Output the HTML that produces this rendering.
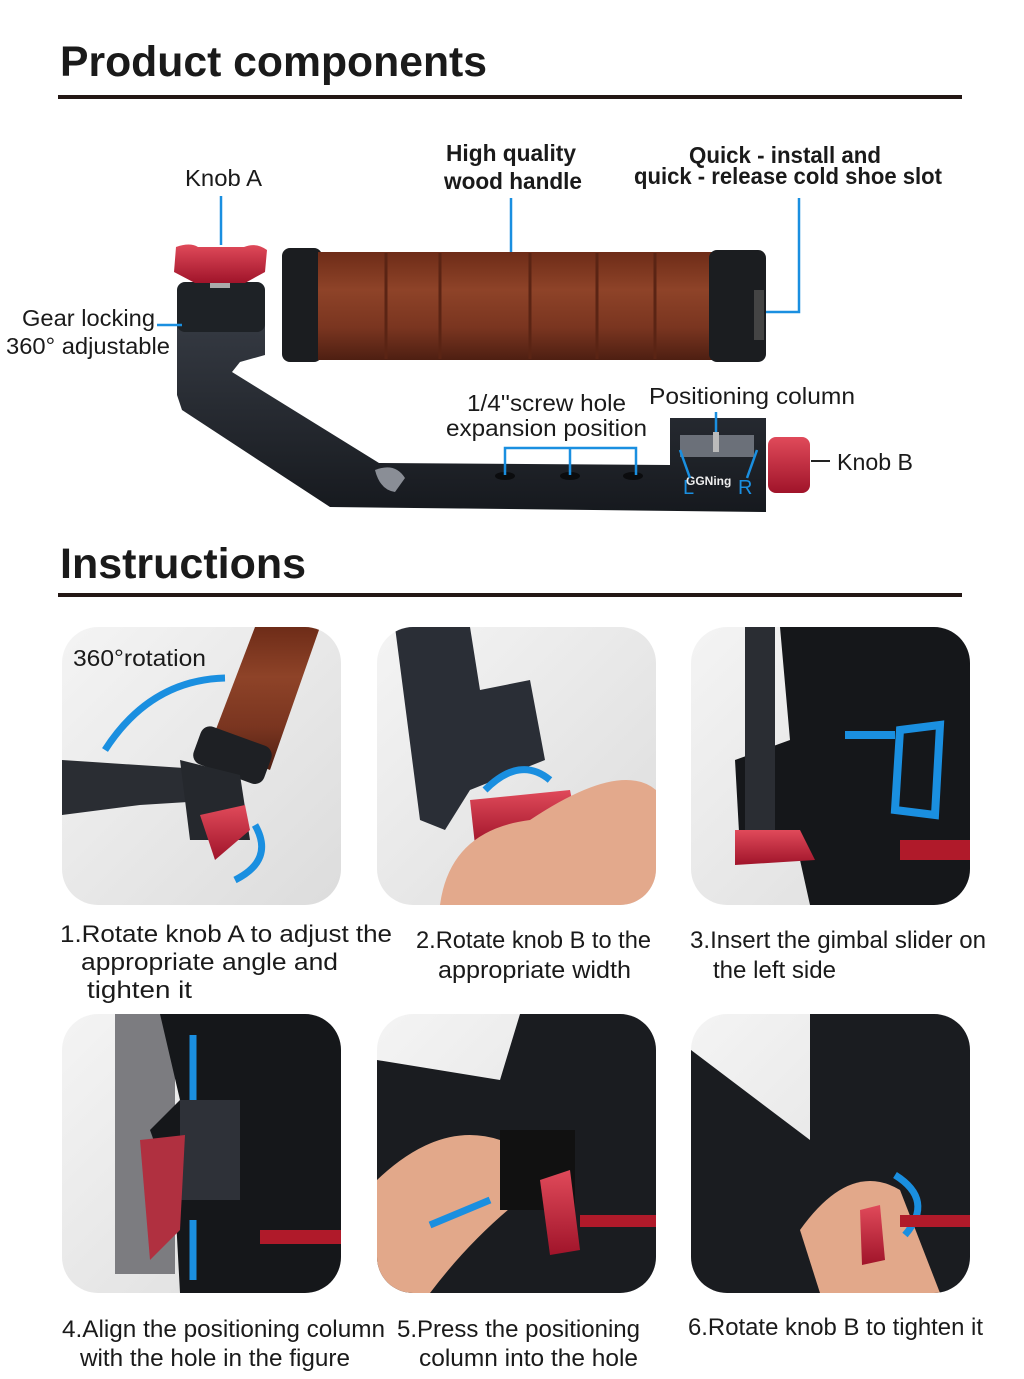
<!DOCTYPE html>
<html><head><meta charset="utf-8"><style>
body{margin:0;background:#fff;}
svg{display:block;}
text{font-family:"Liberation Sans",sans-serif;fill:#1a1a1a;}
</style></head><body>
<svg width="1024" height="1379" viewBox="0 0 1024 1379" xmlns="http://www.w3.org/2000/svg">
<defs>
<linearGradient id="wood" x1="0" y1="0" x2="0" y2="1"><stop offset="0" stop-color="#6e2c18"/><stop offset="0.35" stop-color="#8e4328"/><stop offset="0.7" stop-color="#7a3520"/><stop offset="1" stop-color="#4e1f12"/></linearGradient>
<linearGradient id="red" x1="0" y1="0" x2="0" y2="1"><stop offset="0" stop-color="#e04a5a"/><stop offset="1" stop-color="#a0142a"/></linearGradient>
<linearGradient id="metal" x1="0" y1="0" x2="0" y2="1"><stop offset="0" stop-color="#3a3f48"/><stop offset="1" stop-color="#16191e"/></linearGradient>
<linearGradient id="pbg" x1="0" y1="0" x2="1" y2="1"><stop offset="0" stop-color="#f4f4f4"/><stop offset="1" stop-color="#dcdcdc"/></linearGradient>
<clipPath id="c1"><rect x="62" y="627" width="279" height="278" rx="36"/></clipPath>
<clipPath id="c2"><rect x="377" y="627" width="279" height="278" rx="36"/></clipPath>
<clipPath id="c3"><rect x="691" y="627" width="279" height="278" rx="36"/></clipPath>
<clipPath id="c4"><rect x="62" y="1014" width="279" height="279" rx="36"/></clipPath>
<clipPath id="c5"><rect x="377" y="1014" width="279" height="279" rx="36"/></clipPath>
<clipPath id="c6"><rect x="691" y="1014" width="279" height="279" rx="36"/></clipPath>
</defs>

<text x="60" y="76" font-size="43" font-weight="bold" textLength="427" lengthAdjust="spacingAndGlyphs">Product components</text>
<rect x="58" y="95" width="904" height="4" fill="#231815"/>

<!-- labels -->
<g font-size="23">
<text x="185" y="186" textLength="77" lengthAdjust="spacingAndGlyphs">Knob A</text>
<text x="446" y="161" font-weight="bold" textLength="130" lengthAdjust="spacingAndGlyphs">High quality</text>
<text x="444" y="189" font-weight="bold" textLength="138" lengthAdjust="spacingAndGlyphs">wood handle</text>
<text x="689" y="163" font-weight="bold" textLength="192" lengthAdjust="spacingAndGlyphs">Quick - install and</text>
<text x="634" y="184" font-weight="bold" textLength="308" lengthAdjust="spacingAndGlyphs">quick - release cold shoe slot</text>
<text x="22" y="326" textLength="133" lengthAdjust="spacingAndGlyphs">Gear locking</text>
<text x="6" y="354" textLength="164" lengthAdjust="spacingAndGlyphs">360° adjustable</text>
<text x="467" y="411" textLength="159" lengthAdjust="spacingAndGlyphs">1/4''screw hole</text>
<text x="446" y="436" textLength="201" lengthAdjust="spacingAndGlyphs">expansion position</text>
<text x="649" y="404" textLength="206" lengthAdjust="spacingAndGlyphs">Positioning column</text>
<text x="837" y="470" textLength="76" lengthAdjust="spacingAndGlyphs">Knob B</text>
</g>

<!-- product -->
<path d="M177 290 L265 290 L265 355 L240 362 L232 372 L379 463 L670 465 L670 418 L766 418 L766 512 L330 507 L182 410 L177 395 Z" fill="url(#metal)"/>
<path d="M375 470 Q395 462 405 478 L395 492 Q380 490 375 470 Z" fill="#8a8e96"/>
<rect x="177" y="282" width="88" height="50" rx="8" fill="#1e2226"/>
<rect x="210" y="280" width="20" height="8" fill="#aaa"/>
<path d="M176 247 Q190 242 198 247 L244 247 Q256 242 267 250 L265 272 L245 283 L195 283 L174 272 Z" fill="url(#red)"/>
<rect x="282" y="248" width="40" height="114" rx="8" fill="#1b1d20"/>
<rect x="318" y="252" width="394" height="108" fill="url(#wood)"/>
<g stroke="#5a2414" stroke-width="3"><line x1="386" y1="253" x2="386" y2="359"/><line x1="440" y1="253" x2="440" y2="359"/><line x1="530" y1="253" x2="530" y2="359"/><line x1="597" y1="253" x2="597" y2="359"/><line x1="655" y1="253" x2="655" y2="359"/></g>
<rect x="709" y="250" width="57" height="112" rx="8" fill="#1b1d20"/>
<rect x="754" y="290" width="10" height="50" fill="#444"/>
<rect x="768" y="437" width="42" height="56" rx="8" fill="url(#red)"/>
<rect x="680" y="435" width="74" height="22" fill="#6b7079"/>
<rect x="713" y="432" width="6" height="20" fill="#bbb"/>
<text x="686" y="485" font-size="12" style="fill:#eee" font-weight="bold">GGNing</text>
<text x="683" y="494" font-size="20" style="fill:#1a8fe0">L</text>
<text x="738" y="494" font-size="20" style="fill:#1a8fe0">R</text>
<g fill="#0b0c0e"><ellipse cx="505" cy="476" rx="10" ry="4"/><ellipse cx="570" cy="476" rx="10" ry="4"/><ellipse cx="633" cy="476" rx="10" ry="4"/></g>

<!-- blue leaders -->
<g stroke="#1a8fe0" stroke-width="2.5" fill="none">
<line x1="221" y1="196" x2="221" y2="245"/>
<line x1="511" y1="198" x2="511" y2="252"/>
<polyline points="799,198 799,312 766,312"/>
<line x1="157" y1="325" x2="182" y2="325"/>
<polyline points="505,475 505,448 636,448 636,475"/>
<line x1="570" y1="448" x2="570" y2="475"/>
<line x1="716" y1="412" x2="716" y2="432"/>
<line x1="680" y1="450" x2="690" y2="478"/>
<line x1="757" y1="450" x2="747" y2="478"/>
</g>
<line x1="811" y1="461" x2="830" y2="461" stroke="#222" stroke-width="2"/>

<text x="60" y="578" font-size="43" font-weight="bold" textLength="246" lengthAdjust="spacingAndGlyphs">Instructions</text>
<rect x="58" y="593" width="904" height="4" fill="#231815"/>

<!-- panel 1 -->
<g clip-path="url(#c1)"><rect x="62" y="627" width="279" height="278" fill="url(#pbg)"/>
<path d="M62 760 L215 770 L220 800 L140 805 L62 815 Z" fill="#2a2d33"/>
<path d="M255 627 L320 627 L270 770 L210 745 Z" fill="url(#wood)"/>
<rect x="195" y="735" width="75" height="40" rx="10" fill="#1e2024" transform="rotate(20 232 755)"/>
<path d="M180 760 L240 775 L250 840 L190 840 Z" fill="#25282d"/>
<path d="M200 815 L245 805 L250 830 L215 860 Z" fill="url(#red)"/>
<path d="M105 750 Q150 680 225 678" stroke="#1a8fe0" stroke-width="7" fill="none"/>
<path d="M255 825 Q275 860 235 880" stroke="#1a8fe0" stroke-width="7" fill="none"/>
</g>
<text x="73" y="666" font-size="23" textLength="133" lengthAdjust="spacingAndGlyphs">360°rotation</text>
<!-- panel 2 -->
<g clip-path="url(#c2)"><rect x="377" y="627" width="279" height="278" fill="url(#pbg)"/>
<path d="M395 627 L470 627 L480 690 L530 680 L545 760 L470 790 L445 830 L420 820 Z" fill="#2a2e36"/>
<path d="M470 800 L570 790 L580 840 L475 845 Z" fill="url(#red)"/>
<path d="M440 905 Q450 830 530 820 Q620 760 656 790 L656 905 Z" fill="#e3a98c"/>
<path d="M485 790 Q520 755 550 780" stroke="#1a8fe0" stroke-width="7" fill="none"/>
</g>
<!-- panel 3 -->
<g clip-path="url(#c3)"><rect x="691" y="627" width="279" height="278" fill="url(#pbg)"/>
<path d="M780 627 L970 627 L970 905 L810 905 L800 860 L740 850 L735 760 L790 740 Z" fill="#15171a"/>
<rect x="745" y="627" width="30" height="220" fill="#2a2d33"/>
<path d="M735 830 L800 830 L815 860 L735 865 Z" fill="url(#red)"/>
<path d="M900 730 L940 725 L935 815 L895 810 Z" stroke="#1a8fe0" stroke-width="8" fill="none"/>
<path d="M845 735 L895 735" stroke="#1a8fe0" stroke-width="8"/>
<rect x="900" y="840" width="70" height="20" fill="#b01a2a"/>
</g>
<!-- panel 4 -->
<g clip-path="url(#c4)"><rect x="62" y="1014" width="279" height="279" fill="url(#pbg)"/>
<rect x="115" y="1014" width="60" height="260" fill="#7c7c80"/>
<path d="M160 1014 L341 1014 L341 1293 L180 1293 L175 1200 L150 1130 L180 1100 Z" fill="#15171a"/>
<rect x="180" y="1100" width="60" height="100" fill="#2e3138"/>
<path d="M140 1140 L185 1135 L180 1230 L150 1260 Z" fill="#b03040"/>
<line x1="193" y1="1035" x2="193" y2="1100" stroke="#1a8fe0" stroke-width="7"/>
<line x1="193" y1="1220" x2="193" y2="1280" stroke="#1a8fe0" stroke-width="7"/>
<rect x="260" y="1230" width="81" height="14" fill="#b01a2a"/>
</g>
<!-- panel 5 -->
<g clip-path="url(#c5)"><rect x="377" y="1014" width="279" height="279" fill="url(#pbg)"/>
<path d="M377 1060 L500 1080 L520 1014 L656 1014 L656 1293 L377 1293 Z" fill="#1a1c20"/>
<path d="M377 1180 Q440 1120 500 1140 L520 1200 Q470 1240 430 1293 L377 1293 Z" fill="#e2a88a"/>
<rect x="500" y="1130" width="75" height="80" fill="#111"/>
<path d="M540 1180 L570 1170 L580 1250 L550 1255 Z" fill="url(#red)"/>
<line x1="430" y1="1225" x2="490" y2="1200" stroke="#1a8fe0" stroke-width="7"/>
<rect x="580" y="1215" width="76" height="12" fill="#b01a2a"/>
</g>
<!-- panel 6 -->
<g clip-path="url(#c6)"><rect x="691" y="1014" width="279" height="279" fill="url(#pbg)"/>
<path d="M691 1050 L810 1140 L810 1014 L970 1014 L970 1293 L691 1293 Z" fill="#1a1c20"/>
<path d="M800 1230 Q850 1160 900 1190 L940 1293 L820 1293 Z" fill="#e2a88a"/>
<path d="M860 1210 L880 1205 L885 1260 L862 1265 Z" fill="url(#red)"/>
<path d="M895 1175 Q935 1200 905 1235" stroke="#1a8fe0" stroke-width="7" fill="none"/>
<rect x="900" y="1215" width="70" height="12" fill="#b01a2a"/>
</g>

<!-- captions -->
<g font-size="24">
<text x="60" y="942" textLength="332" lengthAdjust="spacingAndGlyphs">1.Rotate knob A to adjust the</text>
<text x="81" y="970" textLength="257" lengthAdjust="spacingAndGlyphs">appropriate angle and</text>
<text x="87" y="998" textLength="105" lengthAdjust="spacingAndGlyphs">tighten it</text>
<text x="416" y="948" textLength="235" lengthAdjust="spacingAndGlyphs">2.Rotate knob B to the</text>
<text x="438" y="978" textLength="193" lengthAdjust="spacingAndGlyphs">appropriate width</text>
<text x="690" y="948" textLength="296" lengthAdjust="spacingAndGlyphs">3.Insert the gimbal slider on</text>
<text x="713" y="978" textLength="123" lengthAdjust="spacingAndGlyphs">the left side</text>
<text x="62" y="1337" textLength="323" lengthAdjust="spacingAndGlyphs">4.Align the positioning column</text>
<text x="80" y="1366" textLength="270" lengthAdjust="spacingAndGlyphs">with the hole in the figure</text>
<text x="397" y="1337" textLength="243" lengthAdjust="spacingAndGlyphs">5.Press the positioning</text>
<text x="419" y="1366" textLength="219" lengthAdjust="spacingAndGlyphs">column into the hole</text>
<text x="688" y="1335" textLength="295" lengthAdjust="spacingAndGlyphs">6.Rotate knob B to tighten it</text>
</g>
</svg>
</body></html>
